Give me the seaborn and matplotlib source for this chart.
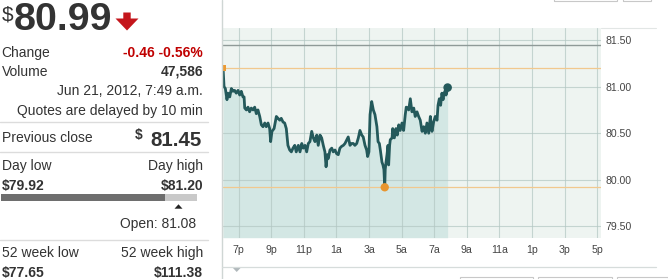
import matplotlib
matplotlib.use("Agg")
import matplotlib.pyplot as plt
from matplotlib.patches import Polygon, Rectangle
from matplotlib.lines import Line2D
import seaborn as sns
import pandas as pd

# ---------------- data ----------------
hours = [18.04, 18.10, 18.18, 18.28, 18.34, 18.45, 18.55, 18.65, 18.75, 18.85,
         18.96, 19.06, 19.16, 19.26, 19.33, 19.37, 19.47, 19.57, 19.67, 19.77,
         19.88, 19.98, 20.08, 20.18, 20.29, 20.39, 20.49, 20.60, 20.69, 20.80,
         20.90, 20.96, 21.04, 21.17, 21.31, 21.41, 21.52, 21.61, 21.72, 21.82,
         21.92, 22.02, 22.13, 22.23, 22.33, 22.44, 22.53, 22.66, 22.76, 22.87,
         22.96, 23.07, 23.17, 23.27, 23.37, 23.48, 23.58, 23.68, 23.79, 23.88,
         23.99, 24.09, 24.19, 24.29, 24.36, 24.44, 24.50, 24.60, 24.71, 24.80,
         24.91, 25.01, 25.11, 25.21, 25.32, 25.42, 25.52, 25.63, 25.72, 25.83,
         25.93, 26.03, 26.13, 26.24, 26.34, 26.44, 26.55, 26.64, 26.75, 26.85,
         26.91, 26.99, 27.06, 27.16, 27.26, 27.36, 27.48, 27.55, 27.63, 27.69,
         27.79, 27.85, 27.91, 27.96, 27.99, 28.04, 28.10, 28.16, 28.20, 28.26,
         28.30, 28.41, 28.45, 28.55, 28.65, 28.73, 28.82, 28.91, 29.02, 29.12,
         29.22, 29.28, 29.37, 29.43, 29.53, 29.63, 29.74, 29.83, 29.94, 30.04,
         30.14, 30.25, 30.35, 30.45, 30.55, 30.66, 30.76, 30.80, 30.86, 30.96,
         31.06, 31.17, 31.23, 31.31, 31.39, 31.47, 31.54, 31.60, 31.68, 31.72,
         31.78, 31.82]
prices = [81.20, 81.00, 80.98, 80.86, 80.93, 80.89, 80.98, 80.95, 80.96, 80.93,
          80.96, 80.91, 80.95, 80.89, 80.89, 80.77, 80.75, 80.78, 80.73, 80.77,
          80.75, 80.78, 80.71, 80.75, 80.68, 80.59, 80.57, 80.61, 80.57, 80.61,
          80.55, 80.41, 80.52, 80.55, 80.68, 80.66, 80.64, 80.66, 80.62, 80.61,
          80.55, 80.37, 80.32, 80.30, 80.34, 80.37, 80.30, 80.37, 80.30, 80.39,
          80.34, 80.37, 80.30, 80.39, 80.41, 80.52, 80.45, 80.41, 80.48, 80.37,
          80.48, 80.45, 80.37, 80.30, 80.14, 80.27, 80.23, 80.32, 80.34, 80.30,
          80.32, 80.28, 80.27, 80.34, 80.36, 80.37, 80.39, 80.43, 80.46, 80.37,
          80.39, 80.39, 80.37, 80.39, 80.45, 80.53, 80.48, 80.46, 80.37, 80.32,
          80.25, 80.30, 80.70, 80.84, 80.75, 80.70, 80.57, 80.41, 80.39, 80.32,
          80.19, 80.16, 80.11, 79.92, 80.11, 80.19, 80.27, 80.37, 80.16, 80.37,
          80.43, 80.45, 80.55, 80.45, 80.55, 80.48, 80.59, 80.53, 80.61, 80.53,
          80.70, 80.78, 80.77, 80.75, 80.87, 80.73, 80.77, 80.68, 80.73, 80.68,
          80.64, 80.52, 80.57, 80.50, 80.61, 80.50, 80.68, 80.61, 80.52, 80.62,
          80.68, 80.64, 80.80, 80.87, 80.80, 80.93, 80.86, 80.93, 80.96, 80.91,
          80.95, 80.99]

prev_close = 81.45
day_high = 81.20
day_low = 79.92
y_ticks = [79.50, 80.00, 80.50, 81.00, 81.50]
x_ticks = [19, 21, 23, 25, 27, 29, 31, 33, 35, 37, 39, 41]
x_labels = ["7p", "9p", "11p", "1a", "3a", "5a", "7a", "9a", "11a", "1p", "3p", "5p"]

last_price = "80.99"
change = "-0.46 -0.56%"
volume = "47,586"
stamp = "Jun 21, 2012, 7:49 a.m."
delay_note = "Quotes are delayed by 10 min"
prev_close_txt = "81.45"
day_low_txt = "$79.92"
day_high_txt = "$81.20"
open_txt = "Open: 81.08"
wk52_low_txt = "$77.65"
wk52_high_txt = "$111.38"

# ---------------- figure ----------------
sns.set_style("white")
plt.rcParams["font.family"] = ["Liberation Sans", "DejaVu Sans"]

W, H = 668, 279
fig = plt.figure(figsize=(W / 100, H / 100), dpi=100)
fig.patch.set_facecolor("white")

def fx(x):
    return x / W

def fy(y):
    return 1 - y / H

TXT = "#333333"
RED = "#c00000"

# chart axes
ax_l, ax_r, ax_t, ax_b = 222, 601, 28.3, 237.7
ax = fig.add_axes([fx(ax_l), fy(ax_b), fx(ax_r - ax_l), (ax_b - ax_t) / H])
ax.set_facecolor("#eef4f1")
x0, x1 = 17.975, 41.23
y0, y1 = 79.379, 81.626
ax.set_xlim(x0, x1)
ax.set_ylim(y0, y1)

df = pd.DataFrame({"hour": hours, "price": prices})

ax.fill_between(df["hour"], df["price"], y0, color="#d3e7e4", zorder=1, lw=0)

for t in x_ticks:
    ax.axvline(t, color="#b3c7c3", lw=0.8, alpha=0.7, zorder=1.5)
for v in y_ticks:
    ax.axhline(v, color="#b3c7c3", lw=0.8, alpha=0.7, zorder=1.5)

ax.axhline(prev_close, color="#8f9a98", lw=1.0, zorder=1.8)
ax.axhline(day_high, color="#f1c88e", lw=0.9, zorder=1.8)
ax.axhline(day_low, color="#f1c88e", lw=0.9, zorder=1.8)

sns.lineplot(data=df, x="hour", y="price", ax=ax, color="#24595b", lw=2.0,
             zorder=3, estimator=None, sort=False)

hi = df.iloc[[0]]
lo = df.loc[[df["price"].idxmin()]]
last = df.iloc[[-1]]
sns.scatterplot(data=hi, x="hour", y="price", ax=ax, color="#eb9a34", s=22,
                marker="s", edgecolor="none", zorder=4)
sns.scatterplot(data=lo, x="hour", y="price", ax=ax, color="#e8952e", s=36,
                edgecolor="none", zorder=4)
sns.scatterplot(data=last, x="hour", y="price", ax=ax, color="#24595b", s=38,
                edgecolor="none", zorder=4)

ax.set_xlabel("")
ax.set_ylabel("")
ax.set_xticks(x_ticks)
ax.set_xticklabels(x_labels)
ax.set_yticks(y_ticks)
ax.set_yticklabels([f"{v:.2f}" for v in y_ticks])
ax.yaxis.tick_right()
ax.tick_params(axis="x", length=0, pad=5.2, labelsize=7.6, labelcolor="#444444")
ax.tick_params(axis="y", length=0, pad=3.0, labelsize=7.6, labelcolor="#444444")
for s in ax.spines.values():
    s.set_visible(False)

# frame lines around chart
fig.add_artist(Line2D([fx(221.5), fx(221.5)], [0, 1], color="#cfd6d4", lw=1.0))
fig.add_artist(Line2D([fx(601), fx(656)], [fy(28.3), fy(28.3)], color="#e2e6e5", lw=0.8))
fig.add_artist(Line2D([fx(222), fx(656)], [fy(266.7), fy(266.7)], color="#d6dcdb", lw=0.9))
fig.add_artist(Polygon([[fx(232.5), fy(267.5)], [fx(241), fy(267.5)], [fx(236.7), fy(272)]],
                       closed=True, color="#b0b8bb", lw=0))
# small control boxes at top/bottom edges
for a, b in [(554, 617), (623, 651)]:
    fig.add_artist(Rectangle((fx(a), fy(0.8)), fx(b - a), 0.05, fill=False,
                             edgecolor="#c8c8c8", lw=0.8))
for a, b in [(460, 533), (538, 612), (617, 668)]:
    fig.add_artist(Rectangle((fx(a), fy(279.5)), fx(b - a), 2.5 / H, fill=False,
                             edgecolor="#c8c8c8", lw=0.8))

# ---------------- left panel ----------------
R = 203
fig.text(fx(1.5), fy(20.5), "$", fontsize=15, color=TXT, ha="left", va="baseline")
fig.text(fx(14), fy(30), last_price, fontsize=28.4, fontweight="bold", color=TXT,
         ha="left", va="baseline")
fig.add_artist(Polygon([[fx(123.3), fy(12.5)], [fx(130.7), fy(12.5)], [fx(130.7), fy(18.5)],
                        [fx(138.5), fy(18.5)], [fx(127), fy(30.5)], [fx(115.5), fy(18.5)],
                        [fx(123.3), fy(18.5)]], closed=True, color="#c4161c", lw=0))

def row(y, left, right, rbold=False, rcolor=TXT, size=10):
    if left:
        fig.text(fx(1.5), fy(y), left, fontsize=size, color=TXT, ha="left", va="baseline")
    if right:
        fig.text(fx(R), fy(y), right, fontsize=size, color=rcolor, ha="right",
                 va="baseline", fontweight="bold" if rbold else "normal")

row(57.3, "Change", change, rbold=True, rcolor=RED)
row(76, "Volume", volume, rbold=True)
row(95, None, stamp)
row(115, None, delay_note)

def sep(y):
    fig.add_artist(Line2D([0, fx(208)], [fy(y), fy(y)], color="#dcdcdc", lw=1.0))

sep(122.3)
row(141.5, "Previous close", None)
fig.text(fx(201.7), fy(145.7), prev_close_txt, fontsize=14.8, fontweight="bold",
         color=TXT, ha="right", va="baseline")
fig.text(fx(143), fy(139.5), "$", fontsize=10, fontweight="bold", color=TXT,
         ha="right", va="baseline")
sep(151.7)

row(170, "Day low", "Day high")
fig.text(fx(1.5), fy(190), day_low_txt, fontsize=10, fontweight="bold", color=TXT,
         ha="left", va="baseline")
fig.text(fx(R), fy(190), day_high_txt, fontsize=10, fontweight="bold", color=TXT,
         ha="right", va="baseline")
fig.add_artist(Rectangle((fx(1), fy(201)), fx(165 - 1), 6.7 / H, color="#6e6e6e", lw=0))
fig.add_artist(Rectangle((fx(165), fy(201)), fx(197 - 165), 6.7 / H, color="#c9c9c9", lw=0))
fig.add_artist(Polygon([[fx(174.5), fy(208.7)], [fx(182.5), fy(208.7)], [fx(178.5), fy(204.3)]],
                       closed=True, color="#222222", lw=0))
fig.text(fx(196.5), fy(228.3), open_txt, fontsize=10, color=TXT, ha="right", va="baseline")
sep(240)
row(257.3, "52 week low", "52 week high")
fig.text(fx(1.5), fy(276.8), wk52_low_txt, fontsize=10, fontweight="bold", color=TXT,
         ha="left", va="baseline")
fig.text(fx(R), fy(276.8), wk52_high_txt, fontsize=10, fontweight="bold", color=TXT,
         ha="right", va="baseline")

fig.savefig("out.png", dpi=100)
